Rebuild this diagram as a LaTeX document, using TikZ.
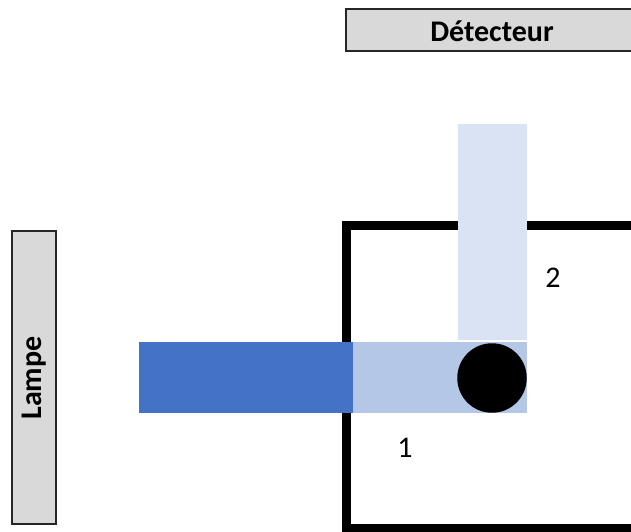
\documentclass[tikz,border=0pt]{standalone}
\usepackage{fontspec}
\setmainfont{Carlito}
\definecolor{boxgray}{HTML}{D9D9D9}
\definecolor{beamdark}{HTML}{4472C4}
\definecolor{beammid}{HTML}{B4C7E7}
\definecolor{beamlight}{HTML}{DAE3F3}
\tikzset{
  label box/.style={draw=black!85, line width=1.5pt, fill=boxgray},
  label text/.style={font=\bfseries\fontsize{30}{36}\selectfont, inner sep=0pt},
  num text/.style={font=\fontsize{30}{36}\selectfont, inner sep=0pt},
  frame line/.style={line width=9pt, line join=miter, draw=black},
}
\begin{document}
\begin{tikzpicture}[x=1pt,y=-1pt]
\useasboundingbox (0,0) rectangle (631,531);
% detector box
\draw[label box] (346,9) rectangle (645,51);
\node[label text] (det) at (492,31) {Détecteur};
% lamp box
\draw[label box] (12,231) rectangle (56,524);
\node[label text, rotate=90] (lamp) at (34,378) {Lampe};
% frame
\draw[frame line] (650,225) -- (346,225) -- (346,528.5) -- (650,528.5);
% beams
\fill[beamlight] (458,124) rectangle (527,340);
\fill[beamdark] (139,342) rectangle (353,413);
\fill[beammid] (353,342) rectangle (527,413);
\node[circle, fill=black, minimum size=69.5pt, inner sep=0pt] (ball) at (492,378) {};
% labels
\node[num text] (one) at (405,448) {1};
\node[num text] (two) at (553,278) {2};
\end{tikzpicture}
\end{document}
